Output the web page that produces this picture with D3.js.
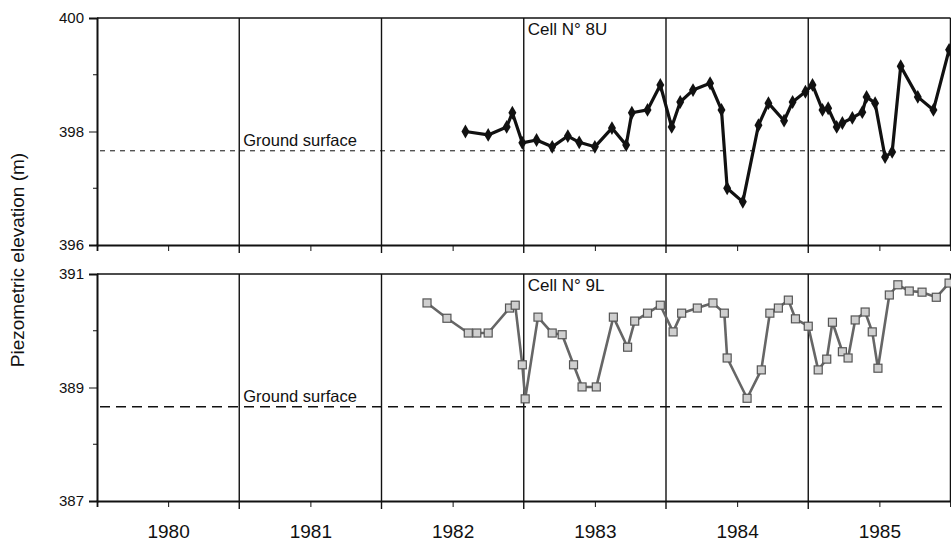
<!DOCTYPE html>
<html>
<meta charset="utf-8">
<style>
    body { margin: 0; background: #fff; }
    svg text { font-family: "Liberation Sans", Arial, sans-serif; fill: #111; }
    .axis path, .axis line { stroke: #111; }
</style>
<body>
<script src="https://cdn.jsdelivr.net/npm/d3@7/dist/d3.min.js"></script>
<script>
// cell 8U (upper panel)
var topYears = [1982.59, 1982.75, 1982.88, 1982.92, 1982.99, 1983.09, 1983.20, 1983.31, 1983.39, 1983.50,
    1983.62, 1983.72, 1983.76, 1983.87, 1983.96, 1984.04, 1984.10, 1984.19, 1984.31, 1984.39,
    1984.43, 1984.54, 1984.65, 1984.72, 1984.83, 1984.89, 1984.98, 1985.03, 1985.10, 1985.14,
    1985.20, 1985.24, 1985.31, 1985.38, 1985.41, 1985.47, 1985.54, 1985.59, 1985.65, 1985.77,
    1985.88, 1985.99];
var topLevels = [398.00, 397.94, 398.08, 398.33, 397.80, 397.85, 397.73, 397.92, 397.81, 397.73,
    398.06, 397.76, 398.33, 398.38, 398.82, 398.08, 398.52, 398.73, 398.85, 398.38,
    397.00, 396.76, 398.11, 398.50, 398.19, 398.52, 398.70, 398.82, 398.38, 398.41,
    398.08, 398.15, 398.24, 398.34, 398.61, 398.50, 397.55, 397.64, 399.15, 398.61,
    398.38, 399.44];

// cell 9L (lower panel)
var botYears = [1982.32, 1982.46, 1982.61, 1982.67, 1982.75, 1982.90, 1982.94, 1982.99, 1983.01, 1983.10,
    1983.20, 1983.27, 1983.35, 1983.41, 1983.51, 1983.63, 1983.73, 1983.78, 1983.87, 1983.96,
    1984.05, 1984.11, 1984.22, 1984.33, 1984.41, 1984.43, 1984.57, 1984.67, 1984.73, 1984.79,
    1984.86, 1984.91, 1985.00, 1985.07, 1985.13, 1985.17, 1985.24, 1985.28, 1985.33, 1985.40,
    1985.45, 1985.49, 1985.57, 1985.63, 1985.71, 1985.80, 1985.90, 1985.99];
var botLevels = [390.49, 390.22, 389.96, 389.96, 389.96, 390.40, 390.45, 389.40, 388.80, 390.24,
    389.96, 389.93, 389.40, 389.01, 389.01, 390.24, 389.71, 390.17, 390.31, 390.45,
    389.98, 390.31, 390.40, 390.49, 390.31, 389.52, 388.81, 389.31, 390.31, 390.40,
    390.54, 390.21, 390.08, 389.31, 389.50, 390.15, 389.63, 389.52, 390.19, 390.33,
    389.98, 389.34, 390.63, 390.81, 390.70, 390.68, 390.59, 390.84];

var groundTop = 397.66;
var groundBot = 388.66;
var yearLabels = [1980, 1981, 1982, 1983, 1984, 1985];
var yearBounds = [1980, 1981, 1982, 1983, 1984, 1985, 1986];
var topTicks = [396, 398, 400], topMinor = [397, 399];
var botTicks = [387, 389, 391], botMinor = [388, 390];

var width = 951, height = 547;
var svg = d3.select("body").append("svg").attr("width", width).attr("height", height);

var x = d3.scaleLinear().domain([1980, 1986]).range([97, 950.5]);
var yTop = d3.scaleLinear().domain([396, 400]).range([245, 18]);
var yBot = d3.scaleLinear().domain([387, 391]).range([501, 274]);

function panel(y, ticks, minor, ground, years, levels, opts) {
    var g = svg.append("g");
    var r = y.range();

    // year separators
    g.selectAll(".sep").data(yearBounds.slice(1, 6)).enter().append("line")
        .attr("x1", function(d) { return x(d); }).attr("x2", function(d) { return x(d); })
        .attr("y1", r[1]).attr("y2", r[0] + 8)
        .attr("stroke", "#111").attr("stroke-width", 1.4);
    g.append("line").attr("x1", x(1986)).attr("x2", x(1986))
        .attr("y1", r[1]).attr("y2", r[0]).attr("stroke", "#111").attr("stroke-width", 1.5);

    // top border
    g.append("line").attr("x1", x(1980)).attr("x2", x(1986))
        .attr("y1", r[1]).attr("y2", r[1]).attr("stroke", "#111").attr("stroke-width", 1.6);

    // y axis
    var ya = g.append("g").attr("class", "axis").attr("transform", "translate(" + x(1980) + ",0)")
        .call(d3.axisLeft(y).tickValues(ticks).tickSize(8).tickPadding(5).tickFormat(d3.format("d")));
    ya.select(".domain").attr("stroke-width", 2);
    ya.selectAll("text").style("font-size", "15px");
    g.selectAll(".minor").data(minor).enter().append("line")
        .attr("x1", x(1980) - 4).attr("x2", x(1980))
        .attr("y1", function(d) { return y(d); }).attr("y2", function(d) { return y(d); })
        .attr("stroke", "#111");

    // x axis
    var xa = g.append("g").attr("class", "axis").attr("transform", "translate(0," + r[0] + ")")
        .call(d3.axisBottom(x).tickValues(yearLabels.map(function(d) { return d + 0.5; }))
            .tickSize(6).tickPadding(18).tickFormat(function(d) { return Math.floor(d); }));
    xa.select(".domain").attr("stroke-width", 1.8);
    xa.selectAll("text").style("font-size", "19px");
    if (!opts.labels) xa.selectAll("text").remove();

    // ground surface
    g.append("line").attr("x1", x(1980) + 3).attr("x2", x(1986) - 3)
        .attr("y1", y(ground)).attr("y2", y(ground))
        .attr("stroke", "#111").attr("stroke-width", opts.dashW).attr("stroke-dasharray", opts.dash);
    g.append("text").attr("x", x(1981) + 4).attr("y", y(ground) - 5)
        .style("font-size", "16.5px").text("Ground surface");

    g.append("text").attr("x", x(1983) + 4).attr("y", r[1] + 17)
        .style("font-size", "17px").text(opts.title);

    // series
    var line = d3.line().x(function(d) { return x(d[0]); }).y(function(d) { return y(d[1]); });
    var pts = d3.zip(years, levels);
    g.append("path").datum(pts).attr("d", line).attr("fill", "none")
        .attr("stroke", opts.color).attr("stroke-width", opts.lineW).attr("stroke-linejoin", "round");

    if (opts.marker === "diamond") {
        g.selectAll(".pt").data(pts).enter().append("path")
            .attr("transform", function(d) { return "translate(" + x(d[0]) + "," + y(d[1]) + ")"; })
            .attr("d", d3.symbol(d3.symbolDiamond, 55)).attr("fill", "#111");
    } else {
        g.selectAll(".pt").data(pts).enter().append("rect")
            .attr("x", function(d) { return x(d[0]) - 4; })
            .attr("y", function(d) { return y(d[1]) - 4; })
            .attr("width", 8).attr("height", 8)
            .attr("fill", "#cfcfcf").attr("stroke", "#555").attr("stroke-width", 1.2);
    }
}

panel(yTop, topTicks, topMinor, groundTop, topYears, topLevels,
    { labels: false, dash: "5,5", dashW: 1, title: "Cell  N° 8U", color: "#111", lineW: 3.2, marker: "diamond" });
panel(yBot, botTicks, botMinor, groundBot, botYears, botLevels,
    { labels: true, dash: "10,6", dashW: 1.6, title: "Cell N° 9L", color: "#666", lineW: 2.6, marker: "square" });

svg.append("text")
    .attr("transform", "translate(24,260) rotate(-90)")
    .attr("text-anchor", "middle")
    .style("font-size", "19px")
    .text("Piezometric elevation (m)");
</script>
</body>
</html>
